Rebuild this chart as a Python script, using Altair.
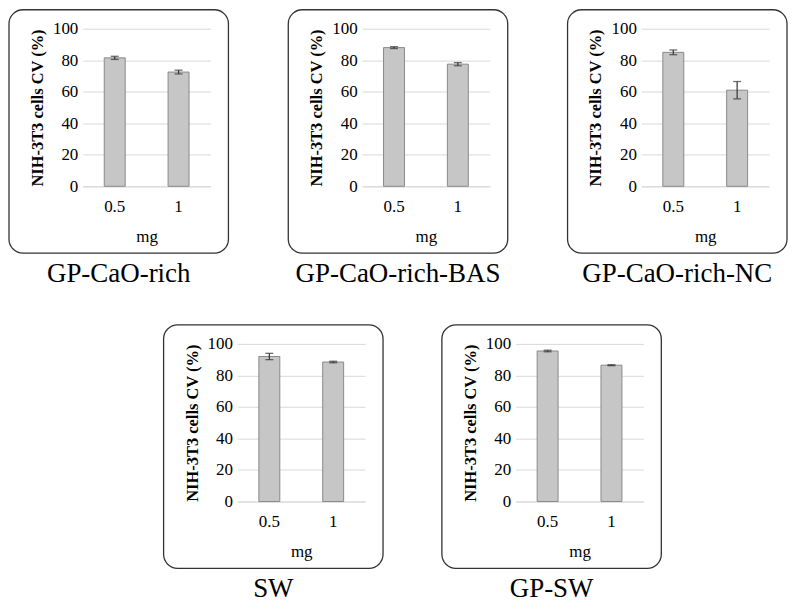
import altair as alt
import pandas as pd

panels = ["GP-CaO-rich", "GP-CaO-rich-BAS", "GP-CaO-rich-NC", "SW", "GP-SW"]
doses = ["0.5", "1"]
means = [
    [81.5, 72.5],
    [88.0, 77.5],
    [85.0, 61.0],
    [92.0, 88.5],
    [95.5, 86.5],
]
errs = [
    [1.0, 1.2],
    [0.6, 1.0],
    [1.5, 5.5],
    [2.0, 0.5],
    [0.5, 0.3],
]
y_ticks = [0, 20, 40, 60, 80, 100]
y_title = "NIH-3T3 cells CV (%)"
x_title = "mg"

SERIF = "Liberation Serif"
W, H = 128, 158


def y_axis():
    return alt.Axis(
        values=y_ticks, title=y_title, ticks=False, domain=False,
        grid=True, gridColor="#d9d9d9", gridWidth=1,
        labelFont=SERIF, labelFontSize=17, labelColor="black",
        labelPadding=5, labelOverlap=False,
        titleFont=SERIF, titleFontSize=16.5, titleFontWeight="bold",
        titleColor="black", titlePadding=7,
    )


def panel(i):
    df = pd.DataFrame({
        "dose": doses,
        "mean": means[i],
        "lo": [m - e for m, e in zip(means[i], errs[i])],
        "hi": [m + e for m, e in zip(means[i], errs[i])],
    })
    name_df = pd.DataFrame({"panel": [panels[i]]})

    x_enc = alt.X(
        "dose:N",
        sort=doses,
        scale=alt.Scale(paddingInner=0, paddingOuter=0),
        axis=alt.Axis(
            title=x_title, labelAngle=0, ticks=False, grid=False,
            domainColor="#d9d9d9", labelFont=SERIF, labelFontSize=17,
            labelColor="black", labelPadding=12, titleFont=SERIF,
            titleFontSize=17, titleFontWeight="normal", titleColor="black",
            titlePadding=14,
        ),
    )
    y_scale = alt.Scale(domain=[0, 100], nice=False)
    base = alt.Chart(df).encode(x=x_enc)

    frame = alt.Chart(name_df).mark_rect(
        fill="white", fillOpacity=0, stroke="#333333", strokeWidth=1.3,
        cornerRadius=14,
    ).encode(x=alt.value(-74), x2=alt.value(146), y=alt.value(-19), y2=alt.value(225))

    bars = base.mark_bar(size=21, fill="#c6c6c6", stroke="#8a8a8a", strokeWidth=1).encode(
        y=alt.Y("mean:Q", scale=y_scale, axis=y_axis())
    )
    rule = base.mark_rule(color="#333333", strokeWidth=1.2).encode(
        y=alt.Y("lo:Q", scale=y_scale, axis=y_axis()), y2="hi:Q"
    )
    cap_lo = base.mark_tick(color="#333333", size=8, thickness=1.3).encode(
        y=alt.Y("lo:Q", scale=y_scale, axis=y_axis())
    )
    cap_hi = base.mark_tick(color="#333333", size=8, thickness=1.3).encode(
        y=alt.Y("hi:Q", scale=y_scale, axis=y_axis())
    )
    title = alt.Chart(name_df).mark_text(
        font=SERIF, fontSize=27, align="center", baseline="middle", color="black"
    ).encode(x=alt.value(36), y=alt.value(246), text="panel:N")

    return alt.layer(frame, bars, rule, cap_lo, cap_hi, title).properties(width=W, height=H)


spacer = alt.Chart(pd.DataFrame({"a": [0]})).mark_point(opacity=0).encode(
    x=alt.value(0), y=alt.value(0)
).properties(width=23, height=10)

top = alt.hconcat(panel(0), panel(1), panel(2), spacing=58)
bottom = alt.hconcat(spacer, panel(3), panel(4), spacing=57)

chart = alt.vconcat(top, bottom, spacing=37).properties(padding=0).configure_view(
    strokeWidth=0
)

chart.save("out.html", embed_options={"renderer": "svg", "actions": False})
